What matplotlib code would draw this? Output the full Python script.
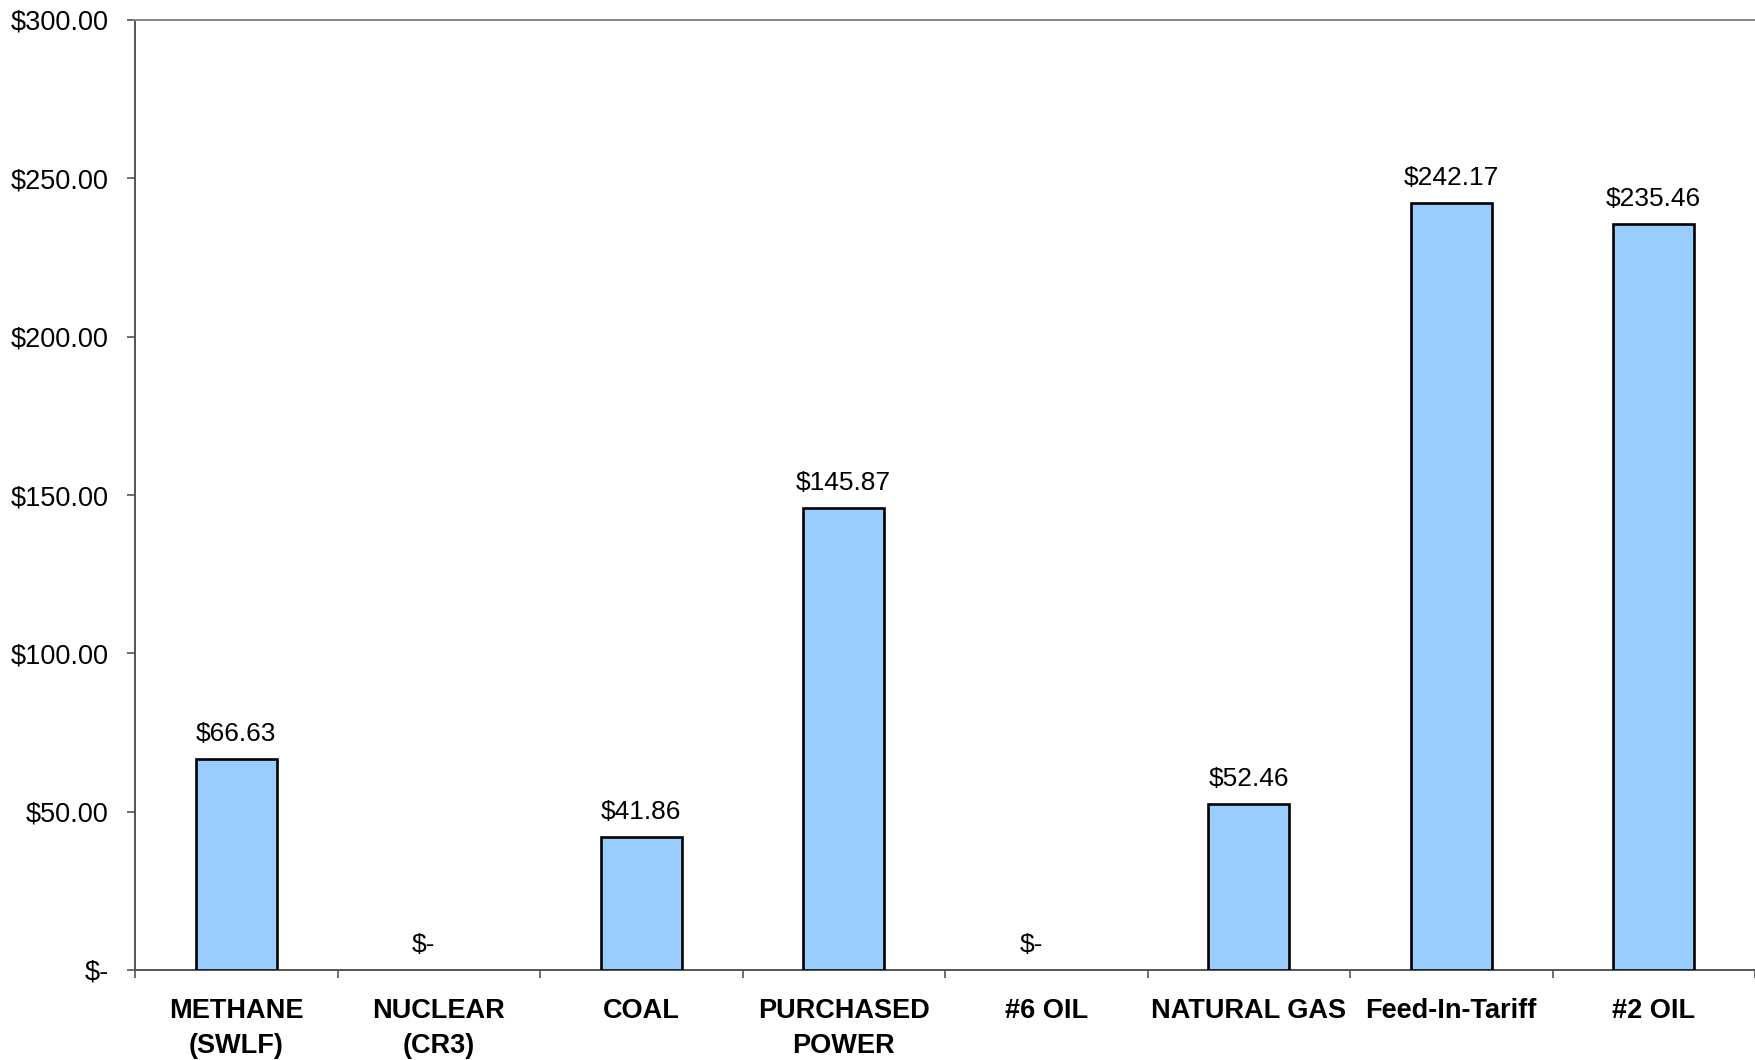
import matplotlib.pyplot as plt
import numpy as np

categories = ["METHANE\n(SWLF)", "NUCLEAR\n(CR3)", "COAL", "PURCHASED\nPOWER",
              "#6 OIL", "NATURAL GAS", "Feed-In-Tariff", "#2 OIL"]
cost = [66.63, 0.0, 41.86, 145.87, 0.0, 52.46, 242.17, 235.46]
y_ticks = [0, 50, 100, 150, 200, 250, 300]

plt.rcParams["font.family"] = ["Liberation Sans", "DejaVu Sans"]


def money(v):
    return "$-" if v == 0 else f"${v:,.2f}"


fig = plt.figure(figsize=(17.55, 10.6), dpi=100)
ax = fig.add_axes([135 / 1755, 1 - 970 / 1060, 1 - 135 / 1755, 950 / 1060])

x = np.arange(len(categories))
# empty categories get no outline, otherwise a flat black line sits on the axis
ax.bar(x, cost, width=0.4, color="#99CCFF", edgecolor="black",
       linewidth=[1.9 if v else 0 for v in cost], zorder=3)

for xi, v in zip(x, cost):
    # accounting-style "$-" is padded on the right, so it sits left of centre
    dx = -11 if v == 0 else 0
    ax.annotate(money(v), (xi, v), xytext=(dx, 13), textcoords="offset points",
                ha="center", va="baseline", fontsize=19)

ax.set_xlim(-0.5, len(categories) - 0.5)
ax.set_ylim(0, 300)
ax.set_yticks(y_ticks)
ax.set_yticklabels([money(v) for v in y_ticks], fontsize=19.5)
ax.tick_params(axis="y", length=6, width=1.2, color="#555555", pad=13)

# boundaries get the tick marks, category names sit between them
ax.set_xticks(np.arange(len(categories) + 1) - 0.5)
ax.set_xticklabels([])
ax.tick_params(axis="x", which="major", length=6, width=1.2, color="#555555")
ax.set_xticks(x, minor=True)
ax.set_xticklabels(categories, minor=True, fontsize=19.5, fontweight="bold",
                   linespacing=1.45)
ax.tick_params(axis="x", which="minor", length=0, pad=20)

for side in ("left", "bottom"):
    ax.spines[side].set_color("#555555")
    ax.spines[side].set_linewidth(1.4)
ax.spines["top"].set_color("#888888")
ax.spines["top"].set_linewidth(1.4)
ax.spines["right"].set_visible(False)

fig.savefig("out.png", dpi=100)
